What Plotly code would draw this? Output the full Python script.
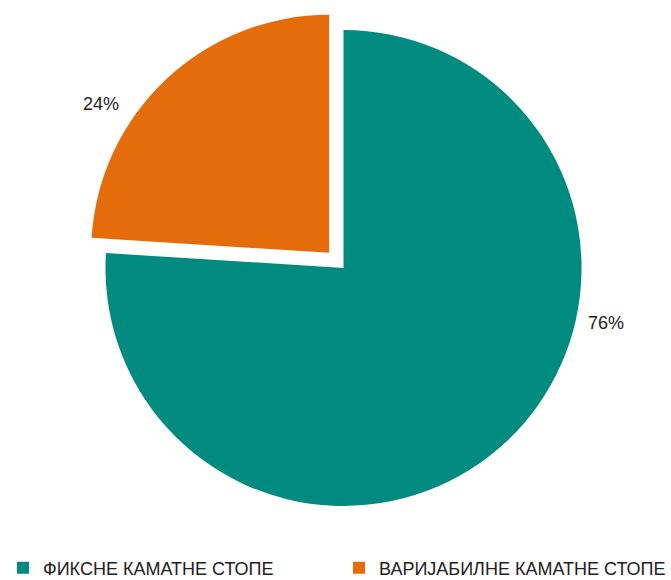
import plotly.graph_objects as go

# Share of loans by interest rate type
categories = ["ФИКСНЕ КАМАТНЕ СТОПЕ", "ВАРИЈАБИЛНЕ КАМАТНЕ СТОПЕ"]
values = [76, 24]
colors = ["#008B80", "#E46C0A"]
pulls = [0, 0.088]

W, H = 671, 580
cx, cy = 343.5, 268
half = 259

fig = go.Figure(
    go.Pie(
        labels=categories,
        values=values,
        sort=False,
        direction="clockwise",
        rotation=0,
        pull=pulls,
        marker=dict(colors=colors, line=dict(width=0)),
        textinfo="none",
        hoverinfo="label+percent",
        domain=dict(
            x=[(cx - half) / W, (cx + half) / W],
            y=[(H - cy - half) / H, (H - cy + half) / H],
        ),
    )
)

# percentage labels outside the slices
total = sum(values)
label_pos = [(626, 323), (81, 92)]
for v, (px, py) in zip(values, label_pos):
    fig.add_annotation(
        x=px / W, y=1 - py / H, xref="paper", yref="paper",
        text=f"{round(100 * v / total)}%", showarrow=False,
        font=dict(family="Liberation Sans", size=18, color="#222222"),
    )

fig.update_layout(
    width=W, height=H,
    margin=dict(l=0, r=0, t=0, b=0, autoexpand=False),
    paper_bgcolor="white",
    plot_bgcolor="white",
    showlegend=True,
    legend=dict(
        orientation="h",
        x=3 / W, xanchor="left",
        y=1 - 568 / H, yanchor="middle",
        entrywidth=291, entrywidthmode="pixels",
        font=dict(family="Liberation Sans", size=18, color="#222222"),
        itemwidth=30,
    ),
)

fig.write_html("out.html")
